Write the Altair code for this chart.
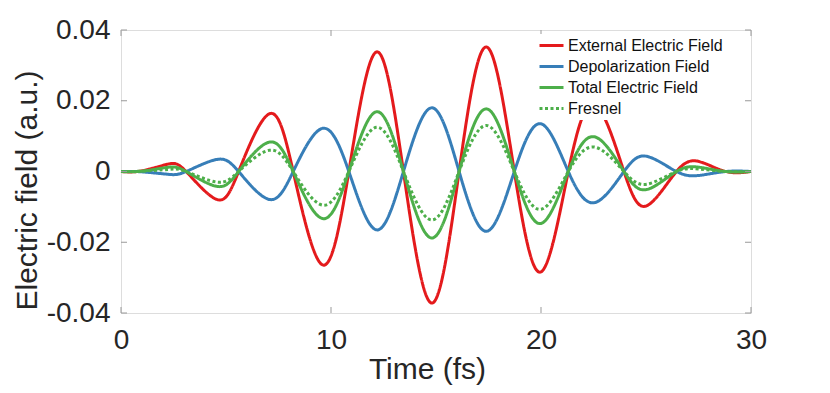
import altair as alt
import pandas as pd

# ---- data ----
time_fs = [0, 1.0, 2.25, 3.1, 4.56, 5.6, 7.06, 8.2, 9.6, 10.85, 12.17, 13.45,
           14.8, 16.1, 17.41, 18.73, 19.99, 21.3, 22.55, 23.95, 25.03, 26.45,
           27.54, 28.8, 30]
external = [0, 0.0002, 0.0021, 0, -0.0079, 0, 0.0163, 0, -0.0264, 0, 0.0338, 0,
            -0.0372, 0, 0.0352, 0, -0.0284, 0, 0.0190, 0, -0.0097, 0, 0.0028, 0, 0]
depolarization = [0, -0.0001, -0.0008, 0, 0.0034, 0, -0.0079, 0, 0.0122, 0, -0.0165, 0,
                  0.0180, 0, -0.0169, 0, 0.0135, 0, -0.0088, 0, 0.0043, 0, -0.0011, 0, 0]
total = [0, 0.0001, 0.0012, 0, -0.0042, 0, 0.0083, 0, -0.0133, 0, 0.0169, 0,
         -0.0188, 0, 0.0177, 0, -0.0147, 0, 0.0098, 0, -0.0051, 0, 0.0012, 0, 0]
fresnel = [0, 0.0001, 0.0006, 0, -0.0030, 0, 0.0060, 0, -0.0095, 0, 0.0125, 0,
           -0.0137, 0, 0.0130, 0, -0.0107, 0, 0.0069, 0, -0.0036, 0, 0.0007, 0, 0]

series_names = ["External Electric Field", "Depolarization Field",
                "Total Electric Field", "Fresnel"]
series_colors = ["#e41a1c", "#377eb8", "#4daf4a", "#4daf4a"]
series_dash = [[1, 0], [1, 0], [1, 0], [3, 2.5]]

x_ticks = [0, 10, 20, 30]
y_ticks = [-0.04, -0.02, 0, 0.02, 0.04]

rows = []
for name, vals in zip(series_names, [external, depolarization, total, fresnel]):
    for t, v in zip(time_fs, vals):
        rows.append({"t": t, "v": v, "series": name})
df = pd.DataFrame(rows)

W, H = 630, 283
FONT = "Liberation Sans"
TXT = "#262626"

xscale = alt.Scale(domain=[0, 30], nice=False, zero=False)
yscale = alt.Scale(domain=[-0.04, 0.04], nice=False, zero=False)

legend = alt.Legend(
    title=None, orient="none", legendX=415, legendY=4,
    symbolType="stroke", symbolSize=576, symbolStrokeWidth=3,
    labelFontSize=16, labelFont=FONT, labelColor="#111111",
    labelOffset=3, clipHeight=19, rowPadding=2,
    fillColor="white", padding=2, zindex=1,
)

lines = alt.Chart(df).mark_line(strokeWidth=3, interpolate="natural").encode(
    x=alt.X("t:Q", scale=xscale,
            axis=alt.Axis(title="Time (fs)", values=x_ticks, grid=False,
                          domain=False, ticks=False, labelPadding=13, labelFlush=False,
                          labelFontSize=28, titleFontSize=30,
                          titleX=306, titleY=65, titleBaseline="alphabetic",
                          titleAlign="center",
                          titleFontWeight="normal", labelFont=FONT, titleFont=FONT,
                          labelColor=TXT, titleColor=TXT)),
    y=alt.Y("v:Q", scale=yscale,
            axis=alt.Axis(title="Electric field (a.u.)", values=y_ticks, grid=False,
                          domain=False, ticks=False, labelPadding=11, labelFlush=False,
                          labelExpr="datum.value == 0 ? '0' : (datum.value < 0 ? '-' : '') + format(abs(datum.value), '.2f') + '\u00a0'",
                          labelFontSize=28, titleFontSize=30,
                          titleX=-85, titleY=160, titleAngle=270,
                          titleBaseline="alphabetic", titleAlign="center",
                          titleFontWeight="normal", labelFont=FONT, titleFont=FONT,
                          labelColor=TXT, titleColor=TXT)),
    color=alt.Color("series:N", scale=alt.Scale(domain=series_names, range=series_colors),
                    legend=legend),
    strokeDash=alt.StrokeDash("series:N", scale=alt.Scale(domain=series_names, range=series_dash),
                              legend=legend),
)

tick_color = "#999999"
xt = pd.DataFrame({"tick": x_ticks})
yt = pd.DataFrame({"tick": y_ticks})
bottom_ticks = alt.Chart(xt).mark_rule(color=tick_color, strokeWidth=1).encode(
    x=alt.X("tick:Q", scale=xscale), y=alt.value(H), y2=alt.value(H - 6))
top_ticks = alt.Chart(xt).mark_rule(color=tick_color, strokeWidth=1).encode(
    x=alt.X("tick:Q", scale=xscale), y=alt.value(0), y2=alt.value(6))
left_ticks = alt.Chart(yt).mark_rule(color=tick_color, strokeWidth=1).encode(
    y=alt.Y("tick:Q", scale=yscale), x=alt.value(0), x2=alt.value(6))
right_ticks = alt.Chart(yt).mark_rule(color=tick_color, strokeWidth=1).encode(
    y=alt.Y("tick:Q", scale=yscale), x=alt.value(W), x2=alt.value(W - 6))

chart = alt.layer(lines, bottom_ticks, top_ticks, left_ticks, right_ticks).properties(
    width=W, height=H,
    autosize=alt.AutoSizeParams(type="none"),
    padding={"left": 113, "top": 22, "right": 71, "bottom": 72},
).configure_view(stroke="#999999", strokeWidth=1.2).configure(background="white")

chart.save("out.html", embed_options={"renderer": "svg", "actions": False})
